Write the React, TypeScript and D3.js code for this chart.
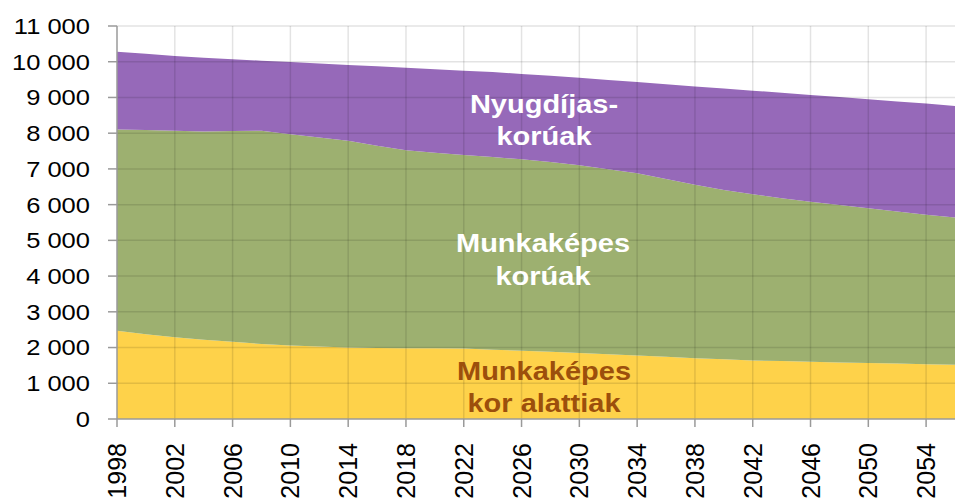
import React from "react";
import * as d3 from "d3";

// population by age group (thousand persons)
const years = [
  1998, 2000, 2002, 2004, 2006, 2008, 2010, 2012, 2014, 2016, 2018, 2020, 2022, 2024, 2026,
  2028, 2030, 2032, 2034, 2036, 2038, 2040, 2042, 2044, 2046, 2048, 2050, 2052, 2054, 2056,
];
const young = [
  2470, 2370, 2290, 2220, 2160, 2100, 2060, 2030, 2000, 1990, 1980, 1980, 1970, 1940, 1910,
  1880, 1850, 1810, 1780, 1740, 1700, 1670, 1640, 1620, 1600, 1580, 1570, 1550, 1530, 1520,
];
const working = [
  5630, 5720, 5780, 5830, 5900, 5970, 5910, 5850, 5790, 5660, 5540, 5470, 5420, 5390, 5360,
  5310, 5250, 5180, 5100, 4980, 4860, 4740, 4650, 4560, 4480, 4410, 4330, 4260, 4190, 4120,
];
const old = [
  2180, 2130, 2090, 2060, 2010, 1960, 2020, 2070, 2120, 2220, 2310, 2340, 2360, 2380, 2390,
  2420, 2450, 2500, 2550, 2650, 2750, 2840, 2900, 2950, 2990, 3020, 3050, 3080, 3110, 3120,
];
const seriesKeys = ["young", "working", "old"];
const seriesColors = ["#fed24a", "#9db070", "#9669b9"];
const xTicks = [1998, 2002, 2006, 2010, 2014, 2018, 2022, 2026, 2030, 2034, 2038, 2042, 2046, 2050, 2054];
const yTicks = [0, 1000, 2000, 3000, 4000, 5000, 6000, 7000, 8000, 9000, 10000, 11000];

const W = 955;
const H = 502;
const margin = { left: 117, right: 0, top: 26, bottom: 83 };
const font = "'Liberation Sans', Arial, sans-serif";
const stretch = 1.16; // the original picture is a bit wider than tall

export default function App() {
  const rows = years.map((y, i) => ({ year: y, young: young[i], working: working[i], old: old[i] }));
  const stacked = d3.stack<any>().keys(seriesKeys)(rows);

  const x = d3.scaleLinear().domain([1998, 2056]).range([margin.left, W - margin.right]);
  const y = d3.scaleLinear().domain([0, 11000]).range([H - margin.bottom, margin.top]);

  const area = d3
    .area<any>()
    .x((d) => x(d.data.year))
    .y0((d) => y(d[0]))
    .y1((d) => y(d[1]));

  const fmt = (v: number) => d3.format(",")(v).replace(",", " ");
  const x0 = margin.left;
  const x1 = W - margin.right;
  const yb = y(0);

  const label = (tx: number, ty: number, txt: string, fill: string) => (
    <text transform={`translate(${tx},${ty}) scale(${stretch},1)`} fill={fill}>
      {txt}
    </text>
  );

  return (
    <svg width={W} height={H} style={{ position: "absolute", left: 0, top: 0, display: "block" }}>
      <rect width={W} height={H} fill="#fff" />
      {stacked.map((s, i) => (
        <path key={s.key} d={area(s) || ""} fill={seriesColors[i]} />
      ))}
      {/* grid on top of areas */}
      {yTicks.slice(1).map((t) => (
        <line key={"gy" + t} x1={x0} x2={x1} y1={y(t)} y2={y(t)} stroke="rgba(0,0,0,0.11)" strokeWidth={1.5} />
      ))}
      {xTicks.slice(1).map((t) => (
        <line key={"gx" + t} x1={x(t)} x2={x(t)} y1={y(11000)} y2={yb} stroke="rgba(0,0,0,0.11)" strokeWidth={1.5} />
      ))}
      {/* axes */}
      <line x1={x0} x2={x0} y1={y(11000)} y2={yb} stroke="#9a9a9a" strokeWidth={1.5} />
      <line x1={x0} x2={x1} y1={yb} y2={yb} stroke="#9a9a9a" strokeWidth={1.5} />
      {yTicks.map((t) => (
        <g key={"ty" + t}>
          <line x1={x0 - 9} x2={x0} y1={y(t)} y2={y(t)} stroke="#9a9a9a" strokeWidth={1.5} />
          <text
            transform={`translate(90,${y(t)}) scale(${stretch},1)`}
            dy="0.36em"
            textAnchor="end"
            fontFamily={font}
            fontSize={22}
            fill="#000"
          >
            {fmt(t)}
          </text>
        </g>
      ))}
      {xTicks.map((t) => (
        <g key={"tx" + t}>
          <line x1={x(t)} x2={x(t)} y1={yb} y2={yb + 8} stroke="#9a9a9a" strokeWidth={1.5} />
          <text
            transform={`translate(${x(t)},${yb + 24}) rotate(-90)`}
            dy="0.36em"
            textAnchor="end"
            fontFamily={font}
            fontSize={25}
            fill="#000"
          >
            {t}
          </text>
        </g>
      ))}
      {/* series labels */}
      <g fontFamily={font} fontWeight="bold" fontSize={25} textAnchor="middle">
        {label(544, 113, "Nyugdíjas-", "#fff")}
        {label(544, 145, "korúak", "#fff")}
        {label(543, 252, "Munkaképes", "#fff")}
        {label(543, 285, "korúak", "#fff")}
        {label(544, 380, "Munkaképes", "#9c4f0c")}
        {label(544, 412, "kor alattiak", "#9c4f0c")}
      </g>
    </svg>
  );
}
